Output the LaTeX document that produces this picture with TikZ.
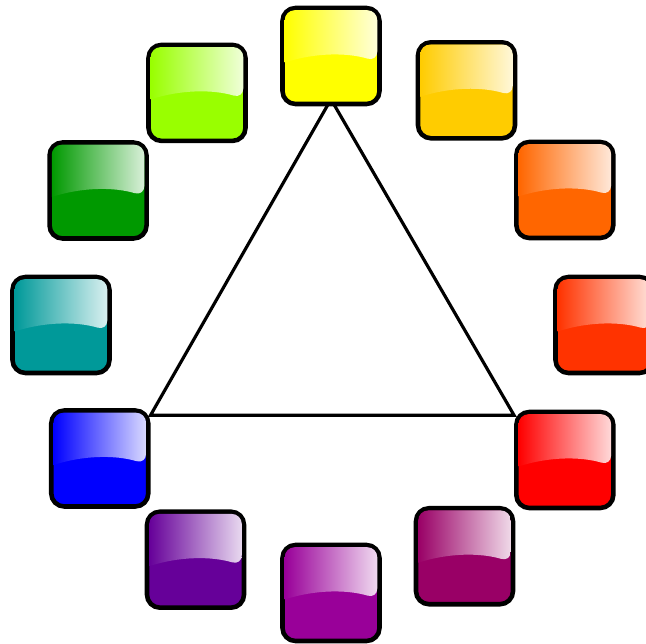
\documentclass[tikz,border=0pt]{standalone}
\usepackage{tikz}
\usetikzlibrary{calc,backgrounds}

\definecolor{wheelyellow}{HTML}{FFFF00}
\definecolor{wheelamber}{HTML}{FFCC00}
\definecolor{wheelorange}{HTML}{FF6600}
\definecolor{wheelvermilion}{HTML}{FF3300}
\definecolor{wheelred}{HTML}{FF0000}
\definecolor{wheelmagenta}{HTML}{990066}
\definecolor{wheelpurple}{HTML}{990099}
\definecolor{wheelviolet}{HTML}{660099}
\definecolor{wheelblue}{HTML}{0000FF}
\definecolor{wheelteal}{HTML}{009999}
\definecolor{wheelgreen}{HTML}{009900}
\definecolor{wheelchartreuse}{HTML}{99FF00}

\begin{document}
\begin{tikzpicture}[
  % Tile styles
  tile/.style={
    draw, line width=1.3pt, rounded corners=0.13cm,
    minimum width=0.97cm, minimum height=0.96cm, inner sep=0pt
  },
  edge/.style={line width=0.9pt}
]

\useasboundingbox (0,0) rectangle (6.46,6.43);
\coordinate (hub) at (3.31,3.18);

% ── Colour tiles round the wheel ─────────────────────────────────────────────
\foreach \ang/\rad/\col/\nm in {
    90/2.69/wheelyellow/yel, 60/2.71/wheelamber/amb, 30/2.70/wheelorange/ora,
    0/2.73/wheelvermilion/ver, -30/2.70/wheelred/red, -60/2.67/wheelmagenta/mag,
    -90/2.68/wheelpurple/pur, -120/2.71/wheelviolet/vio, -150/2.67/wheelblue/blu,
    180/2.70/wheelteal/tea, 150/2.69/wheelgreen/gre, 120/2.68/wheelchartreuse/cha}{
  \node[tile, fill=\col] (\nm) at ($(hub)+(\ang:\rad)$) {};
  % gloss highlight
  \shade[left color=\col, right color=\col!15!white]
    ($(\nm.west)+(0.045,-0.065)$) [rounded corners=0.1cm]
    -- ($(\nm.north west)+(0.045,-0.045)$)
    -- ($(\nm.north east)+(-0.045,-0.045)$)
    -- ($(\nm.east)+(-0.045,-0.055)$) [sharp corners]
    .. controls ($(\nm.center)+(0.16,0.035)$)
            and ($(\nm.center)+(-0.16,0.035)$) .. cycle;
}

% ── Triangle yellow / red / blue ─────────────────────────────────────────────
\begin{scope}[on background layer]
  \coordinate (apex)  at ($(yel.south)+(0,0.07)$);
  \coordinate (left)  at ($(blu.north east)+(0,-0.07)$);
  \coordinate (right) at (left -| red.west);
  \draw[edge] (apex) -- (left) -- (right) -- cycle;
\end{scope}

\end{tikzpicture}
\end{document}
